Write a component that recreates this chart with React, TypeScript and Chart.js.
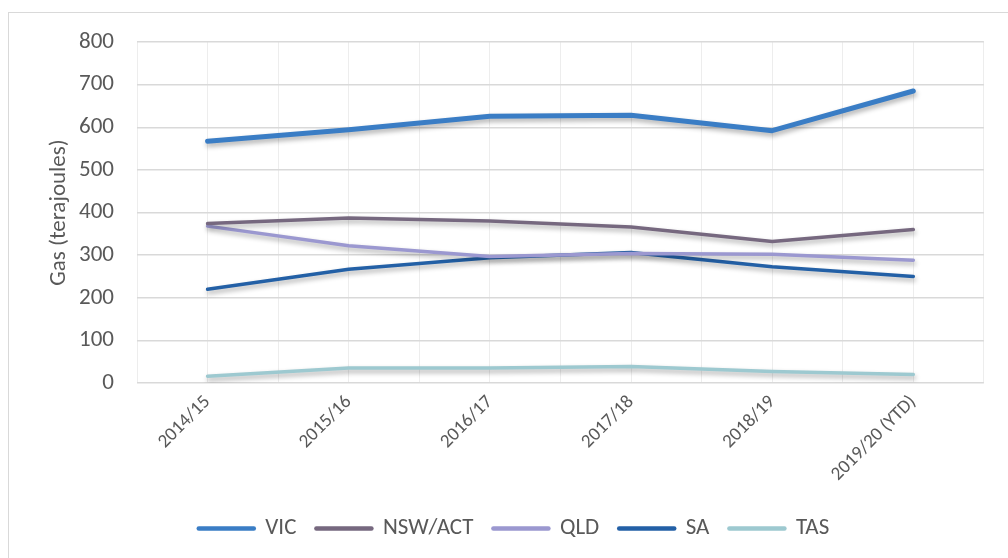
import React, { useEffect, useRef } from "react";
import { Chart, registerables } from "chart.js";

Chart.register(...registerables);

const categories = ["2014/15", "2015/16", "2016/17", "2017/18", "2018/19", "2019/20 (YTD)"];
const vic = [567, 594, 626, 628, 592, 685];
const nswAct = [374, 387, 380, 366, 332, 360];
const qld = [368, 322, 297, 304, 302, 288];
const sa = [220, 267, 294, 306, 273, 250];
const tas = [16, 35, 35, 39, 27, 20];
const yTicks = [0, 100, 200, 300, 400, 500, 600, 700, 800];

const FONT = '"Carlito", "Lato", sans-serif';
const TEXT = "#595959";

const shadowPlugin = {
  id: "lineShadow",
  beforeDatasetDraw(chart: any) {
    const c = chart.ctx;
    c.save();
    c.shadowColor = "rgba(0,0,0,0.32)";
    c.shadowBlur = 5;
    c.shadowOffsetX = 1;
    c.shadowOffsetY = 3;
  },
  afterDatasetDraw(chart: any) {
    chart.ctx.restore();
  },
};

function series(label: string, values: number[], color: string, width: number) {
  return {
    label,
    data: values.map((v, i) => ({ x: i, y: v })),
    borderColor: color,
    backgroundColor: color,
    borderWidth: width,
    borderCapStyle: "round" as const,
    borderJoinStyle: "round" as const,
    pointRadius: 0,
    pointHoverRadius: 0,
    tension: 0,
    fill: false,
  };
}

export default function App() {
  const ref = useRef<HTMLCanvasElement>(null);
  useEffect(() => {
    if (!ref.current) return;
    const chart = new Chart(ref.current, {
      type: "line",
      data: {
        datasets: [
          series("VIC", vic, "#3A7DC5", 5),
          series("NSW/ACT", nswAct, "#76687F", 3.5),
          series("QLD", qld, "#9B98D0", 3.5),
          series("SA", sa, "#2360A6", 3.5),
          series("TAS", tas, "#9DC9D0", 3.5),
        ],
      },
      plugins: [shadowPlugin],
      options: {
        responsive: false,
        animation: false,
        layout: { padding: { left: 20, right: 0, top: 42, bottom: 8 } },
        plugins: {
          tooltip: { enabled: false },
          legend: {
            position: "bottom",
            labels: {
              usePointStyle: true,
              pointStyle: "line",
              pointStyleWidth: 55,
              boxHeight: 23,
              padding: 20,
              color: TEXT,
              font: { family: FONT, size: 23 },
              generateLabels: (c: any) =>
                Chart.defaults.plugins.legend.labels
                  .generateLabels(c)
                  .map((l: any) => ({ ...l, text: l.text, lineWidth: 4.5, lineCap: "round" })),
            },
          },
        },
        scales: {
          x: {
            type: "linear",
            min: -0.5,
            max: 5.5,
            afterFit: (s: any) => {
              s.height = 114;
            },
            afterBuildTicks: (s: any) => {
              const t = [];
              for (let i = 0; i <= 12; i++) t.push({ value: -0.5 + i * 0.5 });
              s.ticks = t;
            },
            ticks: {
              autoSkip: false,
              minRotation: 45,
              maxRotation: 45,
              padding: 8,
              color: TEXT,
              font: { family: FONT, size: 19 },
              callback: (v: any) => {
                const n = Number(v);
                return Number.isInteger(n) && n >= 0 && n < categories.length ? categories[n] : "";
              },
            },
            grid: { color: "#EDEDED", lineWidth: 1, drawTicks: false },
            border: { display: false },
          },
          y: {
            min: 0,
            max: 800,
            afterFit: (s: any) => {
              s.width = 117;
            },
            afterBuildTicks: (s: any) => {
              s.ticks = yTicks.map((v) => ({ value: v }));
            },
            ticks: {
              padding: 23,
              color: TEXT,
              font: { family: FONT, size: 23 },
            },
            grid: { color: "#D9D9D9", lineWidth: 1.5, drawTicks: false },
            border: { display: false },
            title: {
              display: true,
              text: "Gas (terajoules)",
              color: TEXT,
              font: { family: FONT, size: 23 },
              padding: { top: 25, bottom: 0 },
            },
          },
          y2: {
            position: "right",
            min: 0,
            max: 1,
            afterFit: (s: any) => {
              s.width = 21;
            },
            ticks: { display: false },
            grid: { display: false, drawTicks: false },
            border: { display: false },
          },
        },
      } as any,
    });
    return () => chart.destroy();
  }, []);

  return (
    <div style={{ position: "fixed", left: 0, top: 0, width: 1008, height: 558, overflow: "hidden", background: "#fff" }}>
      <div
        style={{
          position: "absolute",
          left: 8,
          top: 12,
          width: 1100,
          height: 700,
          border: "1px solid #D9D9D9",
          boxSizing: "border-box",
        }}
      />
      <canvas ref={ref} width={1008} height={558} style={{ position: "absolute", left: 0, top: 0 }} />
    </div>
  );
}
